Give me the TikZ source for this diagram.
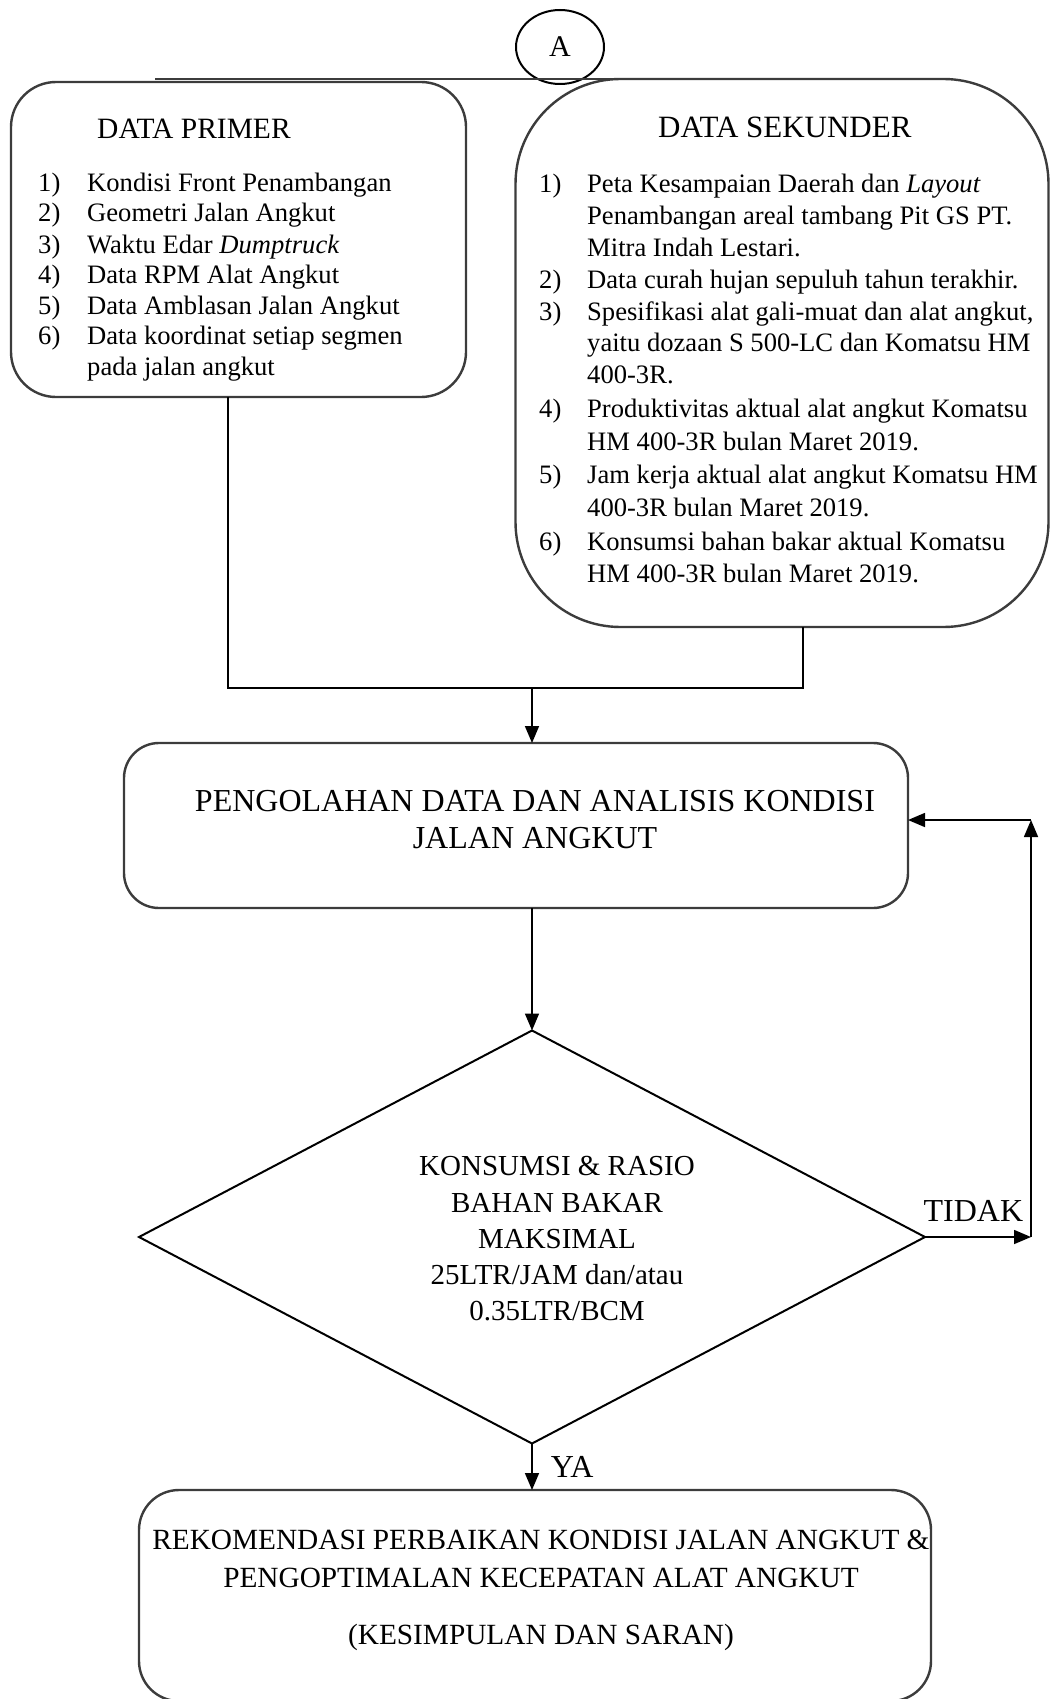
\documentclass[tikz,border=0pt]{standalone}
\usepackage{fontspec}
\setmainfont{Liberation Serif}
\usetikzlibrary{arrows.meta,shapes.geometric}
\definecolor{boxline}{RGB}{60,60,60}
\tikzset{
  boxnode/.style={draw=boxline, line width=2.4pt, inner sep=0pt, outer sep=0pt},
  conn/.style={draw=black, line width=1.6pt},
  arr/.style={conn, -{Triangle[length=17pt,width=14pt]}},
  lst/.style={anchor=base west, inner sep=0pt, font=\fontsize{26.6}{30}\selectfont},
  ttl/.style={anchor=base west, inner sep=0pt},
  ctr/.style={anchor=base, inner sep=0pt},
}
\begin{document}
\begin{tikzpicture}[x=1pt,y=-1pt]
\useasboundingbox (0,0) rectangle (1051,1699);

% connector circle A and top line
\node[draw=black, line width=2pt, ellipse, minimum width=88pt, minimum height=74pt, inner sep=0pt,
      font=\fontsize{30}{33}\selectfont] (A) at (560,47) {A};
\coordinate (tl) at (155,79);
\coordinate (tr) at (950,79);
\draw[draw=boxline, line width=2.4pt] (tl) -- (tr);

% DATA PRIMER
\node[boxnode, rounded corners=45pt, minimum width=455pt, minimum height=315pt] (primer) at (238.5,239.5) {};
\node[ttl, font=\fontsize{29.5}{32}\selectfont] (primerT) at (97,139) {DATA PRIMER};
\node[lst] (p1n) at (38,192) {1)}; \node[lst] (p1t) at (87,192) {Kondisi Front Penambangan};
\node[lst] (p2n) at (38,222) {2)}; \node[lst] (p2t) at (87,222) {Geometri Jalan Angkut};
\node[lst] (p3n) at (38,253) {3)}; \node[lst] (p3t) at (87,253) {Waktu Edar \textit{Dumptruck}};
\node[lst] (p4n) at (38,283) {4)}; \node[lst] (p4t) at (87,283) {Data RPM Alat Angkut};
\node[lst] (p5n) at (38,314) {5)}; \node[lst] (p5t) at (87,314) {Data Amblasan Jalan Angkut};
\node[lst] (p6n) at (38,344) {6)}; \node[lst] (p6t) at (87,344) {Data koordinat setiap segmen};
\node[lst] (p6u) at (87,375) {pada jalan angkut};

% DATA SEKUNDER
\node[boxnode, rounded corners=105pt, minimum width=533pt, minimum height=548pt] (sekunder) at (782,353) {};
\node[ttl, font=\fontsize{31}{34}\selectfont] (sekT) at (658,138) {DATA SEKUNDER};
\node[lst] (s1n) at (539,193) {1)}; \node[lst] (s1t) at (587,193) {Peta Kesampaian Daerah dan \textit{Layout}};
\node[lst] (s1u) at (587,225) {Penambangan areal tambang Pit GS PT.};
\node[lst] (s1v) at (587,256) {Mitra Indah Lestari.};
\node[lst] (s2n) at (539,288) {2)}; \node[lst] (s2t) at (587,288) {Data curah hujan sepuluh tahun terakhir.};
\node[lst] (s3n) at (539,320) {3)}; \node[lst] (s3t) at (587,320) {Spesifikasi alat gali-muat dan alat angkut,};
\node[lst] (s3u) at (587,351) {yaitu dozaan S 500-LC dan Komatsu HM};
\node[lst] (s3v) at (587,383) {400-3R.};
\node[lst] (s4n) at (539,417) {4)}; \node[lst] (s4t) at (587,417) {Produktivitas aktual alat angkut Komatsu};
\node[lst] (s4u) at (587,450) {HM 400-3R bulan Maret 2019.};
\node[lst] (s5n) at (539,483) {5)}; \node[lst] (s5t) at (587,483) {Jam kerja aktual alat angkut Komatsu HM};
\node[lst] (s5u) at (587,516) {400-3R bulan Maret 2019.};
\node[lst] (s6n) at (539,550) {6)}; \node[lst] (s6t) at (587,550) {Konsumsi bahan bakar aktual Komatsu};
\node[lst] (s6u) at (587,582) {HM 400-3R bulan Maret 2019.};

% PENGOLAHAN
\node[boxnode, rounded corners=35pt, minimum width=784pt, minimum height=165pt] (proc) at (516,825.5) {};
\node[ctr, font=\fontsize{32}{36}\selectfont] (procT1) at (535,811) {PENGOLAHAN DATA DAN ANALISIS KONDISI};
\node[ctr, font=\fontsize{32}{36}\selectfont] (procT2) at (535,848) {JALAN ANGKUT};

% Diamond
\node[draw=black, line width=2pt, diamond, minimum width=786pt, minimum height=413pt, inner sep=0pt, outer sep=0pt] (dia) at (532,1237) {};
\node[ctr, font=\fontsize{29}{32}\selectfont] (d1) at (557,1175) {KONSUMSI \& RASIO};
\node[ctr, font=\fontsize{29}{32}\selectfont] (d2) at (557,1212) {BAHAN BAKAR};
\node[ctr, font=\fontsize{29}{32}\selectfont] (d3) at (557,1248) {MAKSIMAL};
\node[ctr, font=\fontsize{29}{32}\selectfont] (d4) at (557,1284) {25LTR/JAM dan/atau};
\node[ctr, font=\fontsize{29}{32}\selectfont] (d5) at (557,1320) {0.35LTR/BCM};

% Final box (its bottom edge runs to the picture's lower border)
\node[boxnode, rounded corners=40pt, minimum width=792pt, minimum height=211pt] (final) at (535,1595.5) {};
\node[ctr, font=\fontsize{29.3}{32}\selectfont] (f1) at (541,1549) {REKOMENDASI PERBAIKAN KONDISI JALAN ANGKUT \&};
\node[ctr, font=\fontsize{29.3}{32}\selectfont] (f2) at (541,1587) {PENGOPTIMALAN KECEPATAN ALAT ANGKUT};
\node[ctr, font=\fontsize{29.3}{32}\selectfont] (f3) at (541,1644) {(KESIMPULAN DAN SARAN)};

% Connectors
\coordinate (jl) at (228,688);
\coordinate (jr) at (803,688);
\coordinate (j) at (532,688);
\draw[conn] (primer.south -| jl) -- (jl) -- (jr) -- (sekunder.south -| jr);
\draw[arr] (j) -- (proc.north -| j);
\draw[arr] (proc.south -| dia.north) -- (dia.north);

\coordinate (rb) at (1031,1237);
\coordinate (rt) at (1031,820);
\draw[arr] (dia.east) -- (rb)
  node[pos=1, anchor=base east, inner sep=0pt, xshift=-7pt, yshift=16pt, font=\fontsize{32}{36}\selectfont] (tidak) {TIDAK};
\draw[arr] (rb) -- (rt);
\draw[arr] (rt) -- (proc.east |- rt);

\draw[arr] (dia.south) -- node[anchor=west, inner sep=0pt, xshift=18pt, font=\fontsize{32}{36}\selectfont] (ya) {YA} (final.north -| dia.south);
\end{tikzpicture}
\end{document}
